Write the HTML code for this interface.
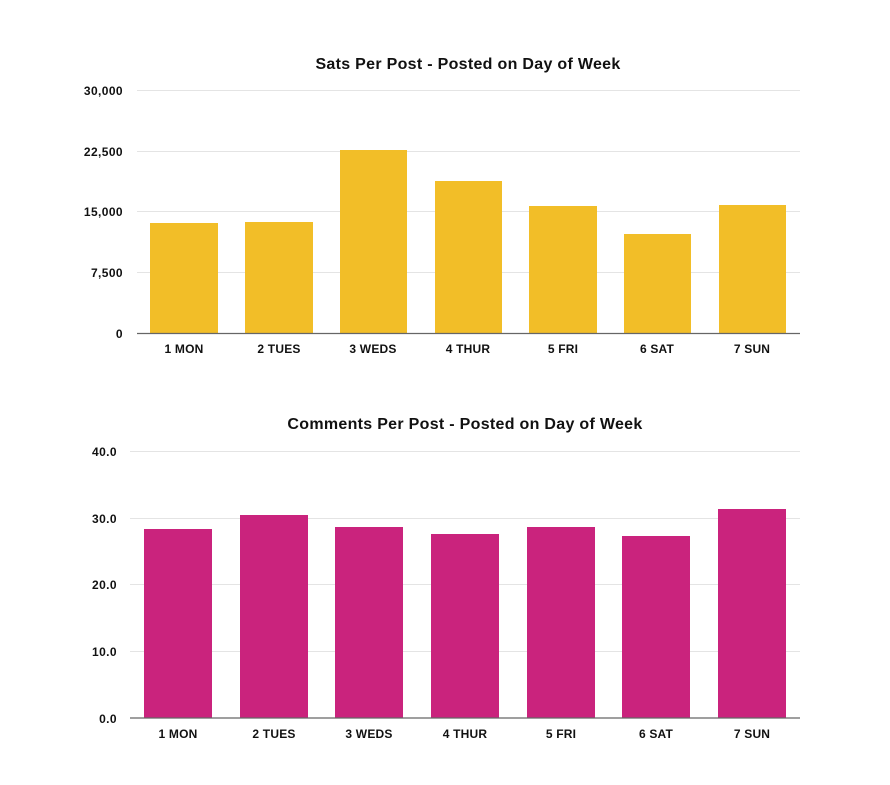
<!DOCTYPE html><html><head><style>body{margin:0;background:#fff}</style></head><body>
<svg width="890" height="780" xmlns="http://www.w3.org/2000/svg" font-family="Liberation Sans, sans-serif" font-weight="bold">
<rect width="890" height="780" fill="#fff"/>
<text x="468" y="69" font-size="16" letter-spacing="0.3" text-anchor="middle" fill="#111">Sats Per Post - Posted on Day of Week</text>
<g stroke="#e4e4e4" stroke-width="1"><line x1="137" x2="800" y1="90.5" y2="90.5"/><line x1="137" x2="800" y1="151.5" y2="151.5"/><line x1="137" x2="800" y1="211.5" y2="211.5"/><line x1="137" x2="800" y1="272.5" y2="272.5"/></g>
<g fill="#F2BE28"><rect x="150" y="223" width="68" height="110.5"/><rect x="245" y="222" width="68" height="111.5"/><rect x="340" y="150" width="67" height="183.5"/><rect x="435" y="181" width="67" height="152.5"/><rect x="529" y="206" width="68" height="127.5"/><rect x="624" y="234" width="67" height="99.5"/><rect x="719" y="205" width="67" height="128.5"/></g>
<line x1="137" x2="800" y1="333.5" y2="333.5" stroke="#666" stroke-width="1.2"/>
<g font-size="12" letter-spacing="0.4" fill="#111" text-anchor="end"><text x="123" y="95">30,000</text><text x="123" y="156">22,500</text><text x="123" y="216">15,000</text><text x="123" y="277">7,500</text><text x="123" y="338">0</text></g>
<g font-size="12" letter-spacing="0.2" fill="#111" text-anchor="middle"><text x="184" y="353">1 MON</text><text x="279" y="353">2 TUES</text><text x="373" y="353">3 WEDS</text><text x="468" y="353">4 THUR</text><text x="563" y="353">5 FRI</text><text x="657" y="353">6 SAT</text><text x="752" y="353">7 SUN</text></g>

<text x="465" y="429" font-size="16" letter-spacing="0.3" text-anchor="middle" fill="#111">Comments Per Post - Posted on Day of Week</text>
<g stroke="#e4e4e4" stroke-width="1"><line x1="130" x2="800" y1="451.5" y2="451.5"/><line x1="130" x2="800" y1="518.5" y2="518.5"/><line x1="130" x2="800" y1="584.5" y2="584.5"/><line x1="130" x2="800" y1="651.5" y2="651.5"/></g>
<g fill="#CA237D"><rect x="144" y="529" width="68" height="189"/><rect x="240" y="515" width="68" height="203"/><rect x="335" y="527" width="68" height="191"/><rect x="431" y="534" width="68" height="184"/><rect x="527" y="527" width="68" height="191"/><rect x="622" y="536" width="68" height="182"/><rect x="718" y="509" width="68" height="209"/></g>
<line x1="130" x2="800" y1="718" y2="718" stroke="#666" stroke-width="1.2"/>
<g font-size="12" letter-spacing="0.4" fill="#111" text-anchor="end"><text x="117" y="456">40.0</text><text x="117" y="523">30.0</text><text x="117" y="589">20.0</text><text x="117" y="656">10.0</text><text x="117" y="723">0.0</text></g>
<g font-size="12" letter-spacing="0.2" fill="#111" text-anchor="middle"><text x="178" y="738">1 MON</text><text x="274" y="738">2 TUES</text><text x="369" y="738">3 WEDS</text><text x="465" y="738">4 THUR</text><text x="561" y="738">5 FRI</text><text x="656" y="738">6 SAT</text><text x="752" y="738">7 SUN</text></g>
</svg></body></html>
